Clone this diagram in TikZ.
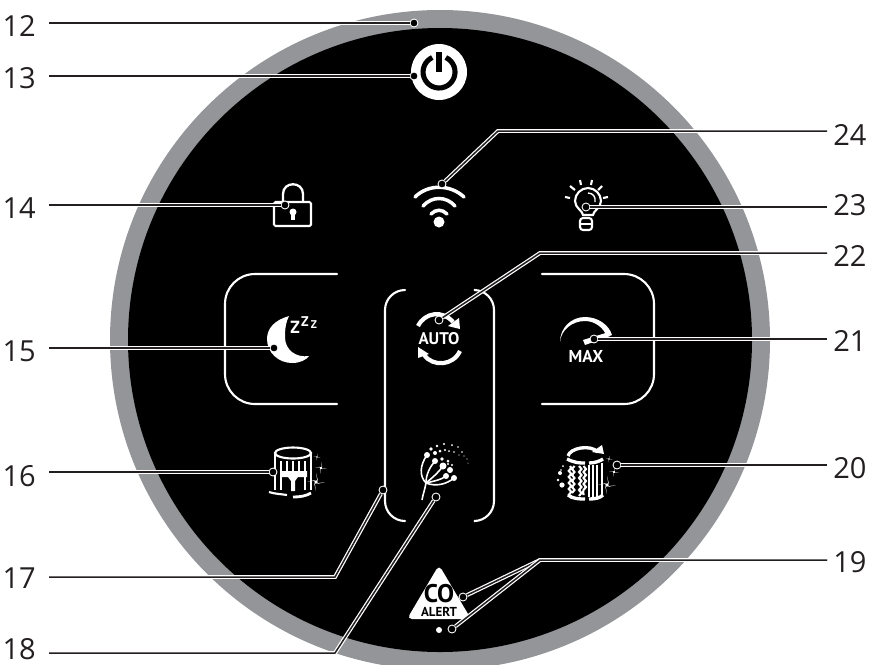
\documentclass[tikz,border=0pt]{standalone}
\usepackage{fontspec}
\setmainfont{Open Sans}
\newfontfamily\iconfont{PT Sans}
\usepackage{tikz}
\usetikzlibrary{decorations.pathmorphing}

\definecolor{rimgray}{HTML}{939598}
\definecolor{leadblack}{HTML}{231F20}

\begin{document}
\begin{tikzpicture}[
    x=0.02cm,
    y=-0.02cm,
    numleft/.style={anchor=east, inner xsep=0.26cm, inner ysep=0pt, text=leadblack, font=\fontsize{16.5}{18}\selectfont},
    numright/.style={anchor=west, inner xsep=0.12cm, inner ysep=0pt, text=leadblack, font=\fontsize{16.5}{18}\selectfont},
    leaddot/.style={circle, draw=white, fill=black, line width=0.5pt, minimum size=0.16cm, inner sep=0pt},
    lead/.style={draw=white, line width=0.7pt, double=leadblack, double distance=0.85pt},
    frameline/.style={draw=white, line width=1.2pt, line cap=round, rounded corners=0.6cm},
    iconline/.style={draw=white, line width=1.2pt},
    iconfat/.style={draw=white, line width=1.9pt},
    icontext/.style={text=white, inner sep=0pt, font=\iconfont\fontsize{#1}{#1}\selectfont\bfseries},
    sparkle/.pic={\fill[white] (-#1,0) -- (0.2*#1,-0.2*#1) -- (0,-#1) -- (0.2*#1,0.2*#1) -- (#1,0) -- (-0.2*#1,0.2*#1) -- (0,#1) -- (-0.2*#1,-0.2*#1) -- cycle;}
]

\useasboundingbox (0,0) rectangle (871,664);
\clip (0,0) rectangle (871,664);

% panel
\fill[rimgray] (440,340) circle[radius=330];
\fill[black] (440,340) circle[radius=312];

% frames
\draw[frameline] (337,274) -- (225,274) -- (225,404) -- (337,404);
\draw[frameline] (542,274) -- (654,274) -- (654,404) -- (542,404);
\draw[frameline, rounded corners=0.4cm] (405,290) -- (385,290) -- (385,521) -- (405,521);
\draw[frameline, rounded corners=0.4cm] (475,290) -- (494,290) -- (494,521) -- (475,521);

% power
\fill[white] (439,72) circle[radius=28];
\draw[black, line width=2.9pt] (445.8,57.5) arc[start angle=65, end angle=-245, radius=0.32cm];
\draw[black, line width=2.9pt] (439,52) -- (439,72);

% wifi
\fill[white] (439,222) circle[radius=5.5];
\draw[iconfat, line width=2pt, line cap=round] (415,197) .. controls (428,184) and (450,184) .. (464,197);
\draw[iconfat, line width=2pt, line cap=round] (423,206) .. controls (432,196) and (446,196) .. (455,206);
\draw[iconfat, line width=2pt, line cap=round] (431,214) .. controls (436,209) and (442,209) .. (447,214);

% bulb
\draw[iconline] (583,215) .. controls (583,211) and (575,208) .. (575,201) .. controls (575,194) and (581,188) .. (588,188) .. controls (595,188) and (601,194) .. (601,201) .. controls (601,208) and (593,211) .. (593,215) -- cycle;
\draw[iconline, line width=0.8pt] (588,193) .. controls (593,193) and (596,197) .. (595,202);
\draw[iconline, rounded corners=0.06cm] (580,218) -- (580,230) -- (592,230) -- (592,218) -- cycle;
\draw[iconline] (580,224) -- (592,224);
\draw[iconline] (565,197) -- (570,198) (570,186) -- (575,190) (580,180) -- (581,185) (592,180) -- (591,185) (602,186) -- (598,190) (608,197) -- (603,198);

% lock
\draw[iconline, rounded corners=0.03cm] (274,202) rectangle (311,226);
\draw[iconline, line width=1.3pt] (283,202) -- (283,194) .. controls (283,181) and (303,181) .. (303,194) -- (303,202);
\fill[white] (293,212) circle[radius=3.5];
\fill[white] (291,213) rectangle (295,220);

% moon
\fill[white] (289,316) .. controls (275,320) and (267,328) .. (267,339) .. controls (267,353) and (279,363) .. (292,363) .. controls (300,363) and (306,360) .. (309,356) .. controls (296,358) and (285,350) .. (285,337) .. controls (285,328) and (286,322) .. (289,316) -- cycle;
\node[icontext=10] (zbig) at (295,327) {Z};
\node[icontext=8] (zmid) at (305,322) {Z};
\node[icontext=6.4] (zsmall) at (314,325) {Z};

% auto
\node[icontext=9.6] (auto) at (439,339) {AUTO};
\draw[iconfat, line width=2.4pt] (418,326) .. controls (425,312) and (443,310) .. (453,322);
\fill[white] (459,318) -- (460,329) -- (448,326) -- cycle;
\draw[iconfat, line width=2.4pt] (460,351) .. controls (453,366) and (433,367) .. (424,355);
\fill[white] (418,347) -- (418,358) -- (429,354) -- cycle;

% max
\node[icontext=9.8] (max) at (586,356) {MAX};
\fill[white] (560,342) .. controls (560,328) and (571,317) .. (585,317) .. controls (598,317) and (609,325) .. (612,335) -- (607,337) .. controls (604,328) and (595,321) .. (585,321) .. controls (572,321) and (561,330) .. (560,342) -- cycle;
\fill[white] (609,332) -- (610,336) -- (585,345) -- (583,340) -- cycle;

% filter 16
\draw[iconline] (293,453) ellipse[x radius=18, y radius=5.5];
\draw[iconline] (275,453) -- (275,490) (311,453) -- (311,490);
\draw[white, line width=0.8pt] (281,461) -- (281,490) (287,461) -- (287,490) (293,461) -- (293,490) (299,461) -- (299,490) (305,461) -- (305,490);
\fill[black] (285,477) rectangle (303,492);
\fill[white] (280,471) -- (307,471) -- (307,477) -- (298,477) -- (295,481) -- (295,491) -- (291,491) -- (291,481) -- (288,477) -- (280,477) -- cycle;
\draw[iconline] (269,492) .. controls (275,494) and (281,494) .. (287,495);
\draw[iconline, line width=1.6pt] (293,497) .. controls (300,497) and (306,496) .. (311,493);
\pic at (317,457) {sparkle=3.5};
\pic at (321,468) {sparkle=6};
\pic at (316,482) {sparkle=9};

% filter 20
\draw[iconfat] (568,456) .. controls (570,448) and (590,444) .. (598,452);
\fill[white] (602,445) -- (604,454) -- (592,452) -- cycle;
\draw[iconfat] (567,459) .. controls (575,463) and (580,463) .. (585,463) (589,463) .. controls (595,463) and (600,461) .. (603,459);
\draw[iconfat] (568,495) .. controls (573,499) and (580,499) .. (585,499) (589,499) .. controls (595,499) and (600,498) .. (603,495);
\draw[iconline, decorate, decoration={snake, amplitude=0.025cm, segment length=0.12cm}] (570,466) -- (570,495) (574.5,466) -- (574.5,495) (579,466) -- (579,495) (583.5,466) -- (583.5,495);
\draw[white, line width=0.8pt] (589,465) -- (589,497) (593,465) -- (593,497) (597,465) -- (597,497) (602,463) -- (602,495);
\fill[white] (560,473) circle[radius=2] (558,480) circle[radius=1.3] (562,485) circle[radius=2.6] (563,466) circle[radius=1] (561,470) circle[radius=0.8];
\pic at (609,459) {sparkle=3.5};
\pic at (614,472) {sparkle=5};
\pic at (607,485) {sparkle=9};

% dandelion
\draw[iconline, line width=0.9pt] (422,500) .. controls (423,494) and (425,489) .. (426,483);
\draw[iconline, line width=0.9pt] (426,483) .. controls (419,476) and (420,465) .. (427,455);
\draw[iconline, line width=0.9pt] (426,483) .. controls (426,474) and (430,467) .. (435,461);
\draw[iconline, line width=0.9pt] (426,483) .. controls (432,478) and (438,473) .. (443,466);
\draw[iconline, line width=0.9pt] (426,483) .. controls (434,481) and (441,480) .. (446,476);
\draw[iconline, line width=0.9pt] (426,483) .. controls (436,487) and (447,484) .. (454,478);
\fill[white] (427,455) circle[radius=3] (435,461) circle[radius=3] (443,466) circle[radius=3.5] (450,470) circle[radius=3] (446,476) circle[radius=3] (454,478) circle[radius=3];
\fill[white] (431,449) circle[radius=1.8] (435,453) circle[radius=2] (437,446) circle[radius=1.3] (440,451) circle[radius=1.5] (444,444) circle[radius=1.2] (445,450) circle[radius=1.2] (452,445) circle[radius=1] (449,451) circle[radius=1] (458,447) circle[radius=0.9] (454,452) circle[radius=0.9] (462,452) circle[radius=0.8] (459,455) circle[radius=0.7] (464,456) circle[radius=0.7] (467,459) circle[radius=0.6] (468,463) circle[radius=0.5] (442,459) circle[radius=1.8] (448,461) circle[radius=1.5] (448,464) circle[radius=1.2] (452,465) circle[radius=1.2];

% co alert
\fill[white, rounded corners=0.1cm] (439,565) -- (471,619) -- (407,619) -- cycle;
\node[icontext=14.5, text=black] (co) at (439,594) {CO};
\node[icontext=7.4, text=black] (alert) at (439,612) {ALERT};
\fill[white] (439,630) circle[radius=3];

% numbers
\node[numleft] (n12) at (49,26) {12};
\node[numleft] (n13) at (49,78) {13};
\node[numleft] (n14) at (49,208) {14};
\node[numleft] (n15) at (49,351) {15};
\node[numleft] (n16) at (49,476) {16};
\node[numleft] (n17) at (49,578) {17};
\node[numleft] (n18) at (49,649) {18};
\node[numright] (n19) at (827,562) {19};
\node[numright] (n20) at (827,468) {20};
\node[numright] (n21) at (827,341) {21};
\node[numright] (n22) at (827,256) {22};
\node[numright] (n23) at (827,205) {23};
\node[numright] (n24) at (827,135) {24};

% dots
\node[leaddot] (d12) at (414,23) {};
\node[leaddot] (d13) at (414,76) {};
\node[leaddot] (d14) at (285,205) {};
\node[leaddot] (d15) at (274,348) {};
\node[leaddot] (d16) at (273,472) {};
\node[leaddot] (d17) at (383,490) {};
\node[leaddot] (d18) at (436,497) {};
\node[leaddot] (d19a) at (463,597) {};
\node[leaddot] (d19b) at (452,629) {};
\node[leaddot] (d20) at (617,465) {};
\node[leaddot] (d21) at (594,339) {};
\node[leaddot] (d22) at (439,320) {};
\node[leaddot] (d23) at (586,207) {};
\node[leaddot] (d24) at (442,184) {};

% bends
\coordinate (b17) at (335,577);
\coordinate (b18) at (335,653);
\coordinate (b19) at (540,560);
\coordinate (b22) at (540,253);
\coordinate (b24) at (498,131);

% leaders
\path[lead] (n12.east |- d12) -- (d12);
\path[lead] (n13.east |- d13) -- (d13);
\path[lead] (n14.east |- d14) -- (d14);
\path[lead] (n15.east |- d15) -- (d15);
\path[lead] (n16.east |- d16) -- (d16);
\path[lead] (n17.east |- b17) -- (b17) -- (d17);
\path[lead] (n18.east |- b18) -- (b18) -- (d18);
\path[lead] (n19.west |- b19) -- (b19) -- (d19a);
\path[lead] (n19.west |- b19) -- (b19) -- (d19b);
\path[lead] (n20.west |- d20) -- (d20);
\path[lead] (n21.west |- d21) -- (d21);
\path[lead] (n22.west |- b22) -- (b22) -- (d22);
\path[lead] (n23.west |- d23) -- (d23);
\path[lead] (n24.west |- b24) -- (b24) -- (d24);

\end{tikzpicture}
\end{document}
